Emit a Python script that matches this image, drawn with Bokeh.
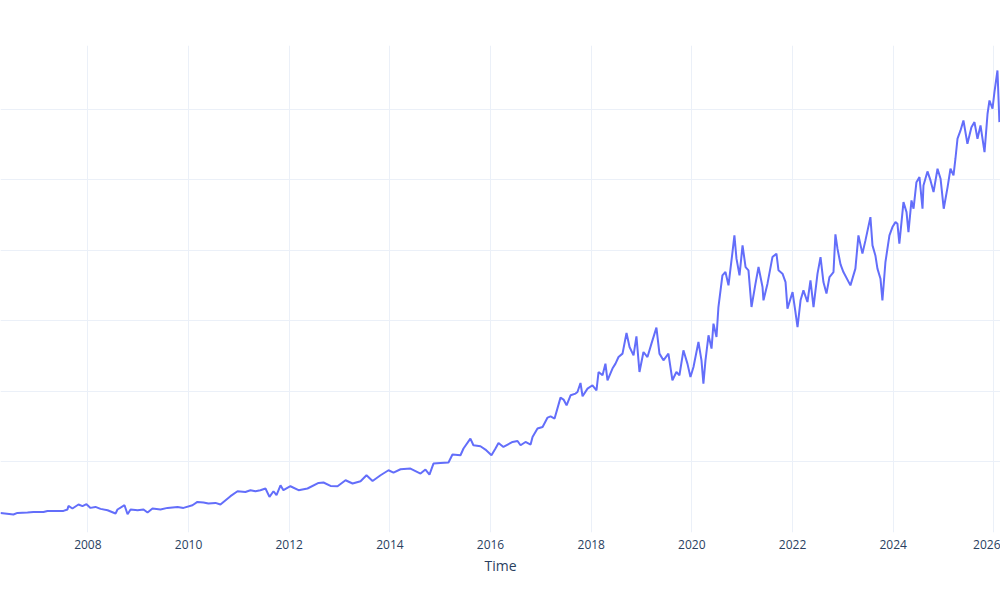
import pandas as pd
from bokeh.plotting import figure
from bokeh.models import Range1d, FixedTicker, DatetimeTickFormatter, ColumnDataSource
from bokeh.embed import file_html
from bokeh.resources import INLINE

dates = [
    "2006-04-07", "2006-07-10", "2006-08-08", "2006-10-20", "2006-12-02",
    "2007-02-13", "2007-03-14", "2007-07-08", "2007-08-06", "2007-08-13",
    "2007-09-11", "2007-10-25", "2007-11-23", "2007-12-22", "2008-01-20",
    "2008-02-25", "2008-04-02", "2008-05-23", "2008-07-20", "2008-08-03",
    "2008-09-23", "2008-10-15", "2008-11-06", "2008-12-27", "2009-02-08",
    "2009-03-09", "2009-04-14", "2009-06-11", "2009-08-01", "2009-10-13",
    "2009-11-25", "2010-01-29", "2010-03-06", "2010-04-19", "2010-05-25",
    "2010-07-15", "2010-08-20", "2010-11-01", "2010-12-22", "2011-02-17",
    "2011-03-26", "2011-05-01", "2011-06-06", "2011-07-13", "2011-08-11",
    "2011-09-09", "2011-10-01", "2011-10-30", "2011-11-20", "2012-01-10",
    "2012-03-09", "2012-05-13", "2012-08-01", "2012-09-06", "2012-10-27",
    "2012-12-17", "2013-02-13", "2013-04-05", "2013-06-02", "2013-07-15",
    "2013-08-28", "2013-10-25", "2013-12-22", "2014-01-27", "2014-03-19",
    "2014-05-30", "2014-08-11", "2014-09-16", "2014-10-15", "2014-11-13",
    "2015-01-03", "2015-03-02", "2015-03-31", "2015-05-28", "2015-06-19",
    "2015-08-08", "2015-08-30", "2015-10-20", "2015-11-25", "2016-01-08",
    "2016-02-06", "2016-02-28", "2016-04-04", "2016-06-09", "2016-07-15",
    "2016-08-06", "2016-09-11", "2016-10-18", "2016-11-01", "2016-12-07",
    "2017-01-13", "2017-02-18", "2017-03-12", "2017-04-10", "2017-05-23",
    "2017-06-14", "2017-07-06", "2017-08-04", "2017-09-09", "2017-09-23",
    "2017-10-15", "2017-10-30", "2017-12-05", "2018-01-10", "2018-02-08",
    "2018-02-23", "2018-03-24", "2018-04-14", "2018-04-29", "2018-06-04",
    "2018-06-26", "2018-07-18", "2018-08-16", "2018-09-14", "2018-10-06",
    "2018-11-04", "2018-11-25", "2018-12-17", "2019-01-15", "2019-02-13",
    "2019-03-14", "2019-04-19", "2019-05-11", "2019-06-09", "2019-07-15",
    "2019-08-13", "2019-09-11", "2019-10-03", "2019-11-01", "2019-11-30",
    "2019-12-22", "2020-01-13", "2020-02-18", "2020-03-11", "2020-03-25",
    "2020-04-09", "2020-05-01", "2020-05-23", "2020-06-06", "2020-06-28",
    "2020-07-12", "2020-08-10", "2020-09-01", "2020-09-23", "2020-10-22",
    "2020-11-05", "2020-11-20", "2020-12-12", "2021-01-03", "2021-01-25",
    "2021-02-15", "2021-03-09", "2021-04-07", "2021-04-29", "2021-05-28",
    "2021-06-04", "2021-07-03", "2021-08-08", "2021-09-06", "2021-09-21",
    "2021-10-20", "2021-11-11", "2021-11-25", "2022-01-01", "2022-01-22",
    "2022-02-06", "2022-02-28", "2022-03-21", "2022-04-19", "2022-05-11",
    "2022-06-02", "2022-07-01", "2022-07-23", "2022-08-13", "2022-09-04",
    "2022-09-26", "2022-10-25", "2022-11-08", "2022-11-23", "2022-12-15",
    "2023-01-05", "2023-02-25", "2023-04-02", "2023-04-24", "2023-05-23",
    "2023-06-14", "2023-07-20", "2023-08-04", "2023-08-25", "2023-09-09",
    "2023-10-01", "2023-10-15", "2023-11-06", "2023-12-05", "2023-12-27",
    "2024-01-18", "2024-02-01", "2024-02-15", "2024-03-16", "2024-04-07",
    "2024-04-21", "2024-05-13", "2024-05-28", "2024-06-18", "2024-07-10",
    "2024-08-01", "2024-08-08", "2024-09-06", "2024-09-28", "2024-10-20",
    "2024-11-18", "2024-12-10", "2025-01-02", "2025-01-30", "2025-02-20",
    "2025-03-14", "2025-03-28", "2025-04-12", "2025-05-04", "2025-05-25",
    "2025-06-23", "2025-07-22", "2025-08-13", "2025-09-04", "2025-09-26",
    "2025-10-25", "2025-11-16", "2025-11-30", "2025-12-22", "2026-01-05",
    "2026-01-27", "2026-02-10",
]

values = [
    27.8, 25.5, 27.8, 28.3, 29.2,
    29.2, 30.6, 30.6, 32.6, 37.7,
    34.0, 39.7, 37.3, 40.1, 34.9,
    36.3, 33.5, 31.6, 26.9, 32.6,
    38.7, 25.9, 32.6, 31.6, 32.6,
    28.3, 34.0, 32.6, 34.9, 36.3,
    34.9, 38.7, 43.4, 42.5, 41.1,
    42.0, 39.7, 51.5, 58.5, 57.5,
    60.0, 58.5, 60.0, 62.4, 50.5,
    58.5, 52.9, 67.0, 60.0, 65.6,
    60.0, 62.4, 70.3, 70.9, 66.1,
    65.6, 74.1, 69.5, 72.7, 81.2,
    73.1, 81.2, 88.3, 85.0, 89.7,
    90.7, 83.6, 89.3, 82.2, 97.8,
    98.7, 99.2, 110.6, 109.6, 119.1,
    133.2, 123.7, 122.3, 117.6, 109.6,
    119.1, 127.0, 121.3, 128.4, 129.8,
    123.7, 128.4, 124.7, 135.5, 147.4,
    149.7, 163.0, 164.8, 161.6, 191.3,
    188.5, 180.4, 194.6, 197.0, 199.3,
    212.0, 193.2, 204.1, 208.8, 201.7,
    227.6, 223.0, 239.5, 215.9, 232.5,
    239.5, 248.9, 253.7, 282.9, 263.1,
    251.3, 278.2, 227.6, 256.0, 248.9,
    267.9, 290.6, 253.7, 244.2, 253.7,
    215.9, 227.6, 223.0, 258.4, 239.5,
    220.5, 234.7, 270.2, 244.2, 211.2,
    244.2, 279.7, 260.8, 296.2, 277.2,
    319.8, 364.7, 369.4, 350.5, 397.7,
    421.4, 388.4, 364.7, 407.2, 376.5,
    371.8, 319.8, 352.9, 376.5, 348.1,
    329.3, 352.9, 390.6, 395.5, 371.8,
    367.1, 355.2, 317.5, 341.0, 312.7,
    291.4, 329.3, 343.4, 326.9, 357.6,
    319.8, 367.1, 390.6, 355.2, 338.8,
    362.3, 369.4, 422.8, 402.5, 380.3,
    369.4, 350.5, 374.2, 421.4, 395.5,
    414.3, 447.3, 407.2, 393.0, 374.2,
    360.0, 329.3, 383.6, 421.4, 433.2,
    440.2, 438.0, 409.6, 468.6, 454.4,
    426.1, 471.0, 459.2, 496.9, 504.0,
    459.2, 492.2, 512.1, 499.4, 482.8,
    515.9, 501.8, 459.2, 489.9, 515.9,
    506.4, 530.1, 558.5, 570.2, 584.4,
    551.4, 574.9, 582.0, 558.5, 577.3,
    539.5, 593.9, 612.7, 601.0, 624.5,
    655.3, 582.0,
]

tick_years = [2008, 2010, 2012, 2014, 2016, 2018, 2020, 2022, 2024, 2026]
y_grid_values = [0, 100, 200, 300, 400, 500, 600]
x_title = "Time"

source = ColumnDataSource(data=dict(t=pd.to_datetime(dates), v=values))

p = figure(
    width=1000, height=598,
    x_axis_type="datetime",
    x_range=Range1d(start=pd.Timestamp("2006-04-07"), end=pd.Timestamp("2026-02-18")),
    y_range=Range1d(start=0, end=690.7),
    output_backend="svg", toolbar_location=None,
    min_border_left=0, min_border_right=0, min_border_top=45, min_border_bottom=66,
)
p.outline_line_color = None
p.background_fill_color = "white"
p.border_fill_color = "white"

p.line("t", "v", source=source, line_color="#636efa", line_width=2)

tick_ms = [pd.Timestamp(f"{y}-01-01").timestamp() * 1000 for y in tick_years]
p.xaxis.ticker = FixedTicker(ticks=tick_ms)
p.xaxis.formatter = DatetimeTickFormatter(
    years="%Y", months="%Y", days="%Y", hours="%Y", minutes="%Y",
    seconds="%Y", milliseconds="%Y", microseconds="%Y",
)
p.xaxis.axis_line_color = None
p.xaxis.major_tick_line_color = None
p.xaxis.minor_tick_line_color = None
p.xaxis.major_label_text_font = "Open Sans"
p.xaxis.major_label_text_font_size = "12px"
p.xaxis.major_label_text_color = "#2a3f5f"
p.xaxis.major_label_standoff = 1
p.xaxis.axis_label = x_title
p.xaxis.axis_label_text_font = "Open Sans"
p.xaxis.axis_label_text_font_size = "14px"
p.xaxis.axis_label_text_font_style = "normal"
p.xaxis.axis_label_text_color = "#2a3f5f"
p.xaxis.axis_label_standoff = 4

p.yaxis.visible = False
p.ygrid.ticker = FixedTicker(ticks=y_grid_values)
p.xgrid.grid_line_color = "#EBF0F8"
p.ygrid.grid_line_color = "#EBF0F8"
p.xgrid.grid_line_width = 1
p.ygrid.grid_line_width = 1

open("out.html", "w").write(file_html(p, INLINE))
